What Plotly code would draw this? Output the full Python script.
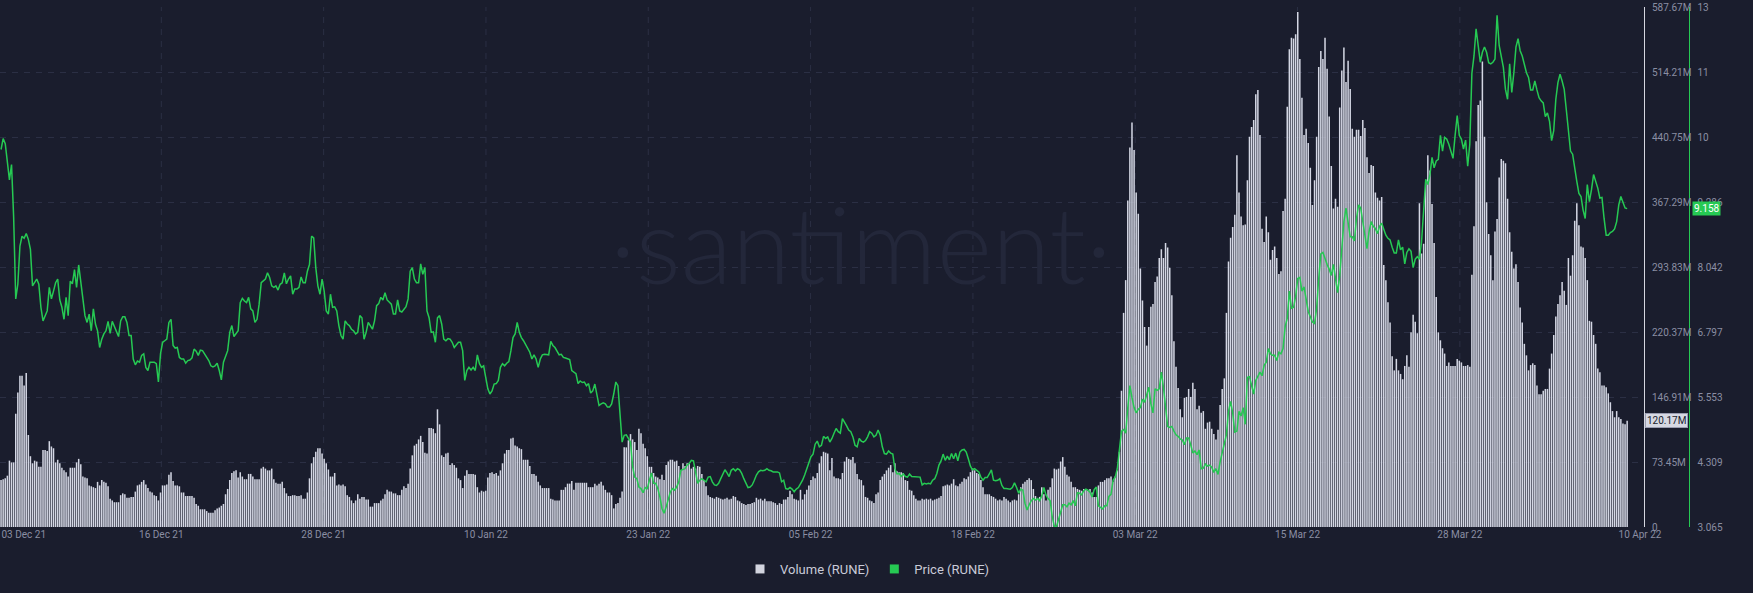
import pandas as pd
import plotly.graph_objects as go

# ---------------- data (4-hour bars) ----------------
vol_seg_a = [53,54,55,58,75,73,73,128,152,171,171,160,174,104,80,72,75,74,68,68,87,87,86,97,91,89,73,76,72,67,64,62,57,67,67,67,73,77,71,57,56,55,47,46,45,44,51,47,53,51,50,46,32,30,28,28,28,36,38,37,33,33,34,34,40,47,48,51,53,48,44,40,39,36,35,30,39,47,47,48,59,62,52,47,47,46,39,39,35,35,35,35,33,26,24,20,20,20,18,16,16,16,19,21,22,24,26,37,43,53,61,63,64,56,62,57,54,54,60,60,57,54,54,54,66,68,66,64,64,66,54,50,49]
vol_seg_b = [49,51,44,38,35,35,36,36,35,35,36,32,32,39,55,72,79,85,89,89,83,77,72,65,57,57,61,47,48,47,48,46,36,34,30,27,30,37,32,34,34,31,31,23,23,27,27,27,30,32,37,42,40,40,38,38,36,36,42,46,44,49,66,81,92,94,99,103,96,84,83,112,112,111,106,133,116,81,79,83,84,70,72,70,67,55,53,44,58,64,60,60,60,59,45,39,41,40,41,56,61,62,60,61,58,64,72,83,87,87,100,101,92,91,89,88,76,76,76,69,60,60,58,51,47,44,44,44]
vol_seg_c = [44,32,31,30,30,30,42,42,45,49,49,52,42,50,50,50,50,50,50,45,45,45,49,47,49,51,47,42,39,39,36,21,26,27,33,40,90,90,98,105,99,96,87,111,106,94,89,80,68,68,61,57,56,54,59,53,70,74,76,76,74,75,69,64,72,69,72,72,66,68,66,69,68,60,53,46,36,34,33,32,34,33,32,31,32,33,31,32,35,34,30,29,27,26,25,26,26,27,28,33,31,32,30,32,29,29,29,28,27,25,27,26,31,31,34,41,37,32,31,30,42,31,37,42,47,53,57]
vol_seg_d = [55,61,72,80,85,84,83,64,78,57,55,55,54,61,74,79,77,76,79,72,60,54,53,47,34,33,30,29,27,37,39,53,57,60,64,67,70,62,72,63,62,62,61,53,52,42,41,36,32,30,30,32,31,32,31,32,30,31,32,33,35,46,47,48,47,49,54,47,46,49,51,55,54,57,62,66,64,61,60,53,45,37,37,37,35,34,32,30,31,30,34,32,30,28,30,31,30,37,45,49,51,53,55,53,43,35,32,34,45,37,30,42,45,55,66,65,66,74,79,68,59,57,51,45,45,43,42,41]
vol_seg_e = [43,43,41,43,39,34,34,47,51,51,53,55,55,57,51,57,64,85,154,242,279,369,429,457,426,378,354,292,256,226,205,226,249,252,277,283,304,314,304,321,316,293,262,210,181,157,133,124,146,147,156,147,163,156,133,137,129,131,111,118,119,111,105,99,110,138,156,168,242,300,327,339,353,420,378,351,341,342,392,441,452,460,489,494,443,337,322,351,333,302,313,317,304,286,289,357,371,475,540,553,552,557,582,529,485,443,450,434,406,364,392,441,520,538,529,553,518,464,408,360,371,362,474,516,542,503,527,495,450,441,449,449]
vol_seg_f = [442,460,451,418,400,409,408,378,372,369,373,296,279,254,231,193,177,190,177,173,167,182,194,181,220,240,232,219,366,309,320,390,420,403,365,321,260,220,211,202,196,182,186,182,182,182,190,188,186,182,182,183,181,285,340,436,477,482,526,441,367,331,307,279,334,348,395,416,414,411,371,333,311,292,297,277,248,231,207,194,177,183,185,183,160,150,150,154,156,156,179,196,217,238,252,262,277,267,251,304,284,307,346,366,341,317,316,304,279,233,232,217,207,179,175,160,160,158,151,141,131,124,131,124,122,117,116,120.17]

price_seg_a = [10.29,10.50,10.40,10.10,9.71,10.00,9.00,7.43,7.71,8.44,8.63,8.59,8.68,8.57,8.38,7.68,7.74,7.81,7.71,7.27,7.01,7.11,7.20,7.65,7.43,7.58,7.74,7.81,7.41,7.27,7.04,7.46,7.11,7.77,7.72,7.99,7.65,8.08,7.77,7.39,7.11,6.98,7.14,6.82,7.24,6.95,6.82,6.50,6.66,6.76,6.82,7.00,6.77,7.00,6.90,6.82,6.71,7.01,7.09,7.09,6.98,6.73,6.73,6.28,6.17,6.24,6.22,6.35,6.38,6.12,6.06,6.22,6.22,6.22,6.19,5.84,6.38,6.60,6.63,6.66,6.98,7.04,6.54,6.49,6.50,6.31,6.28,6.28,6.20,6.25,6.26,6.30,6.47,6.43,6.35,6.45,6.44,6.38,6.31,6.25,6.15,6.13,6.15,6.20,6.06,5.88,6.22,6.35,6.44,6.79,6.92,6.71,6.76,6.82,7.36,7.44,7.39,7.36,7.46,7.24,7.20,6.98,7.04,7.33,7.74,7.77,7.81,7.93,7.84,7.68,7.65,7.68,7.60]
price_seg_b = [7.71,7.74,7.93,7.72,7.81,7.87,7.52,7.62,7.62,7.65,7.85,7.74,7.74,7.96,8.09,8.63,8.60,8.03,7.68,7.52,7.81,7.58,7.20,7.14,7.52,7.27,7.28,7.20,6.92,6.73,6.66,7.01,6.95,6.92,6.85,6.82,6.76,6.79,7.11,7.07,6.66,6.79,6.98,6.92,6.85,7.01,7.30,7.34,7.46,7.41,7.55,7.41,7.36,7.33,7.14,7.14,7.41,7.20,7.18,7.24,7.28,7.43,7.96,8.03,7.81,7.74,7.74,8.10,7.90,8.03,7.20,7.07,6.79,6.80,6.60,7.07,7.11,6.95,6.66,6.63,6.67,6.66,6.60,6.50,6.56,6.60,6.60,6.44,5.87,6.06,6.12,6.07,6.12,6.06,6.36,6.19,6.12,6.15,5.93,5.71,5.61,5.67,5.80,5.81,5.87,6.12,6.19,6.15,6.20,6.23,6.44,6.69,6.76,6.98,6.79,6.69,6.63,6.56,6.50,6.41,6.28,6.36,6.28,6.12,6.28,6.36,6.37,6.37]
price_seg_c = [6.36,6.62,6.54,6.50,6.44,6.36,6.37,6.31,6.30,6.28,6.27,6.06,6.03,6.00,5.81,5.86,5.83,5.84,5.77,5.81,5.63,5.67,5.80,5.58,5.39,5.42,5.44,5.42,5.36,5.36,5.42,5.61,5.84,5.77,5.30,4.69,4.82,4.83,4.76,4.69,4.22,4.02,3.99,3.83,3.80,3.72,3.82,3.80,3.96,4.10,3.90,3.90,3.80,3.64,3.42,3.33,3.45,3.61,3.74,3.80,3.77,3.83,3.93,4.15,4.16,4.18,4.25,4.28,4.34,4.33,4.12,3.90,3.96,3.99,3.96,3.93,4.02,4.03,3.93,3.87,3.86,3.90,3.99,4.08,4.16,4.10,4.03,4.15,4.18,4.14,4.18,4.16,4.09,3.99,3.90,3.82,3.83,3.87,3.96,4.06,4.12,4.15,4.14,4.15,4.18,4.15,4.14,4.12,4.12,4.12,4.10,3.93,3.96,3.80,3.79,3.82,3.79,3.74,3.79,3.82,3.89,3.96,4.06,4.18,4.29,4.41,4.46]
price_seg_d = [4.65,4.71,4.60,4.63,4.80,4.76,4.79,4.69,4.76,4.86,4.95,4.89,4.86,5.14,5.08,5.00,4.92,4.89,4.79,4.63,4.60,4.76,4.71,4.69,4.72,4.79,4.89,4.86,4.79,4.82,4.92,4.82,4.60,4.47,4.46,4.52,4.48,4.46,4.18,4.08,4.09,4.03,4.08,4.03,4.02,4.08,4.03,4.03,4.03,4.03,4.02,3.87,3.90,3.89,3.90,3.89,3.96,3.99,4.09,4.25,4.33,4.46,4.34,4.42,4.35,4.47,4.37,4.48,4.33,4.50,4.54,4.55,4.50,4.37,4.23,4.16,4.18,4.15,4.12,4.02,3.96,4.01,4.01,4.08,4.16,3.96,3.95,3.96,3.99,3.86,3.80,3.80,3.79,3.79,3.82,3.91,3.82,3.71,3.79,3.77,3.52,3.39,3.49,3.57,3.61,3.58,3.61,3.57,3.66,3.82,3.68,3.61,3.57,3.26,3.08,3.07,3.21,3.36,3.49,3.49,3.45,3.52,3.49,3.57,3.47,3.72,3.71,3.68]
price_seg_e = [3.76,3.79,3.77,3.73,3.64,3.78,3.83,3.47,3.44,3.41,3.47,3.47,3.65,3.69,3.96,4.02,4.18,4.50,4.90,4.93,4.86,5.35,5.77,5.54,5.35,5.25,5.32,5.35,5.51,5.45,5.62,5.74,5.42,5.25,5.71,5.68,5.71,6.03,5.74,5.35,4.99,4.97,4.99,4.90,4.83,4.80,4.75,4.73,4.64,4.77,4.77,4.64,4.48,4.52,4.45,4.54,4.18,4.19,4.27,4.23,4.25,4.21,4.11,4.18,4.07,4.31,4.50,4.70,4.83,5.28,5.47,5.25,4.88,4.90,5.28,5.19,5.35,5.03,5.93,5.94,5.77,5.61,5.87,5.94,6.03,5.96,6.16,6.22,6.48,6.38,6.35,6.35,6.25,6.41,6.38,6.48,6.90,7.06,7.58,7.25,7.27,7.48,7.82,7.84,7.58,7.66,7.38,7.19,7.09,6.99,6.96,7.25,7.82,8.29,8.32,8.19,8.09,8.00,7.88,8.09,7.84,7.55,7.87,8.45,8.91,9.17,8.85,8.62,8.62,8.54,8.97,9.23]
price_seg_f = [9.17,8.91,8.59,8.39,8.72,8.91,8.82,8.78,8.68,8.82,8.88,8.78,8.65,8.59,8.56,8.42,8.31,8.31,8.56,8.37,8.42,8.10,8.32,8.39,8.34,8.03,8.19,8.24,8.19,8.52,9.23,9.72,9.62,9.81,10.14,9.94,10.07,10.10,10.56,10.26,10.52,10.49,10.39,10.26,10.12,10.56,10.94,10.56,10.49,10.30,10.47,9.97,10.39,11.75,12.08,12.60,12.28,11.96,12.15,12.25,12.15,11.95,11.93,11.96,12.02,12.86,12.28,12.08,11.86,11.44,11.25,11.93,11.38,11.76,12.25,12.41,12.18,12.08,11.93,11.76,11.67,11.43,11.43,11.60,11.43,11.28,11.22,11.18,10.92,10.99,10.83,10.46,10.65,11.25,11.57,11.73,11.60,11.44,11.05,10.65,10.26,10.20,9.91,9.68,9.45,9.39,9.13,8.97,9.62,9.29,9.52,9.81,9.68,9.55,9.36,9.37,8.97,8.65,8.65,8.70,8.72,8.77,8.91,9.23,9.39,9.26,9.17,9.158]

x_tick_labels = ["03 Dec 21", "16 Dec 21", "28 Dec 21", "10 Jan 22", "23 Jan 22", "05 Feb 22",
                 "18 Feb 22", "03 Mar 22", "15 Mar 22", "28 Mar 22", "10 Apr 22"]
vol_tick_labels = ["0", "73.45M", "146.91M", "220.37M", "293.83M", "367.29M", "440.75M", "514.21M", "587.67M"]
price_tick_labels = ["3.065", "4.309", "5.553", "6.797", "8.042", "9.286", "10", "11", "13"]

volume_m = vol_seg_a + vol_seg_b + vol_seg_c + vol_seg_d + vol_seg_e + vol_seg_f
price = price_seg_a + price_seg_b + price_seg_c + price_seg_d + price_seg_e + price_seg_f
n = min(len(volume_m), len(price))
volume_m = volume_m[:n]
price = price[:n]

step = pd.Timedelta(hours=4)
start = pd.Timestamp("2021-12-03 00:00")
times = [start + i * step for i in range(n)]

# ---------------- styling ----------------
W, H = 1753, 593
PLOT_R = 1661          # right edge of the plotting area in px
BG = "#1a1d2d"
GRID = "#2b2f44"
TXT = "#8a8ea3"
GREEN = "#26c953"
BAR = "#d4d7e4"

range_start = times[0] - step / 2
range_end = times[-1] + 8 * step
span = range_end - range_start

def px_to_time(px):
    return range_start + span * (px / PLOT_R)

tick_px = [24] + [163 + 164 * k for k in range(9)] + [1657]
tickvals = [px_to_time(p) for p in tick_px]
grid_px = [163 + 164 * k for k in range(9)]

VOL_MAX = 587.67
vol_tickvals = [VOL_MAX * k / 8 for k in range(9)]
P_MIN, P_MAX = 3.065, 13.017
price_tickvals = [P_MIN + (P_MAX - P_MIN) * k / 8 for k in range(9)]

fig = go.Figure()
fig.add_trace(go.Bar(
    x=times, y=volume_m, name="Volume (RUNE)",
    marker=dict(color=BAR, line=dict(width=0)),
    width=step.total_seconds() * 1000 * 0.72,
    yaxis="y", hoverinfo="skip", showlegend=False,
))
fig.add_trace(go.Scatter(
    x=times, y=price, name="Price (RUNE)", mode="lines",
    line=dict(color=GREEN, width=1.5), yaxis="y2", showlegend=False,
    hoverinfo="skip",
))
# legend swatches (square markers, like the reference legend)
fig.add_trace(go.Scatter(x=[times[0]], y=[None], name="Volume (RUNE)", mode="markers",
                         marker=dict(symbol="square", size=9, color="#d2d4de"), yaxis="y"))
fig.add_trace(go.Scatter(x=[times[0]], y=[None], name="Price (RUNE)", mode="markers",
                         marker=dict(symbol="square", size=9, color=GREEN), yaxis="y2"))

shapes = []
for p in grid_px:
    t = px_to_time(p)
    shapes.append(dict(type="line", xref="x", yref="paper", x0=t, x1=t, y0=0, y1=1,
                       line=dict(color=GRID, width=1, dash="6px,6px"), layer="below"))

fig.update_layout(
    width=W, height=H, autosize=False,
    paper_bgcolor=BG, plot_bgcolor=BG,
    margin=dict(l=0, r=0, t=7, b=66),
    barmode="overlay", bargap=0.01,
    font=dict(family="Roboto, sans-serif", color=TXT, size=10),
    showlegend=True,
    legend=dict(orientation="h", x=0.5, xanchor="center", y=(H - 569) / H, yanchor="middle",
                yref="container", font=dict(color="#c9cbd8", size=13), bgcolor="rgba(0,0,0,0)",
                itemwidth=30),
    xaxis=dict(domain=[0, PLOT_R / W], range=[range_start, range_end], type="date",
               tickvals=tickvals, ticktext=x_tick_labels, showgrid=False, zeroline=False,
               showline=False, ticks="", ticklabeloverflow="allow",
               tickfont=dict(color=TXT, size=10)),
    yaxis=dict(side="right", anchor="x", range=[0, VOL_MAX], tickvals=vol_tickvals,
               ticktext=vol_tick_labels, showgrid=True, gridcolor=GRID, griddash="6px,6px",
               zeroline=False, showline=True, linecolor="#d5d7e0", linewidth=1, ticks="",
               ticklabelstandoff=5, ticklabeloverflow="allow", tickfont=dict(color=TXT, size=10)),
    yaxis2=dict(side="right", overlaying="y", anchor="free", position=1707 / W,
                range=[P_MIN, P_MAX], tickvals=price_tickvals, ticktext=price_tick_labels,
                showgrid=False, zeroline=False, showline=True, linecolor=GREEN, linewidth=1,
                ticks="", ticklabelstandoff=5, ticklabeloverflow="allow",
                tickfont=dict(color=TXT, size=10)),
    shapes=shapes,
)

# watermark
fig.add_annotation(text="·santiment·", xref="paper", yref="paper",
                   x=870 / W, y=(527 - 243) / 520, xanchor="center", yanchor="middle",
                   showarrow=False, font=dict(family="Lato", size=106, color="#23273a", weight=300))

# last-value labels
fig.add_annotation(text="9.158", xref="paper", yref="y2", x=1724 / W, y=price[-1],
                   xanchor="center", yanchor="middle", showarrow=False,
                   bgcolor=GREEN, font=dict(color="#ffffff", size=10), borderpad=1)
fig.add_annotation(text="120.17M", xref="paper", yref="y", x=1684 / W, y=volume_m[-1],
                   xanchor="center", yanchor="middle", showarrow=False,
                   bgcolor="#d6d8e2", bordercolor="#9a9db0", borderwidth=1,
                   font=dict(color="#1a1d2d", size=10), borderpad=1)

fig.write_html("out.html", config={"staticPlot": True},
               post_script="document.body.style.margin='0';document.body.style.background='%s';" % BG)
